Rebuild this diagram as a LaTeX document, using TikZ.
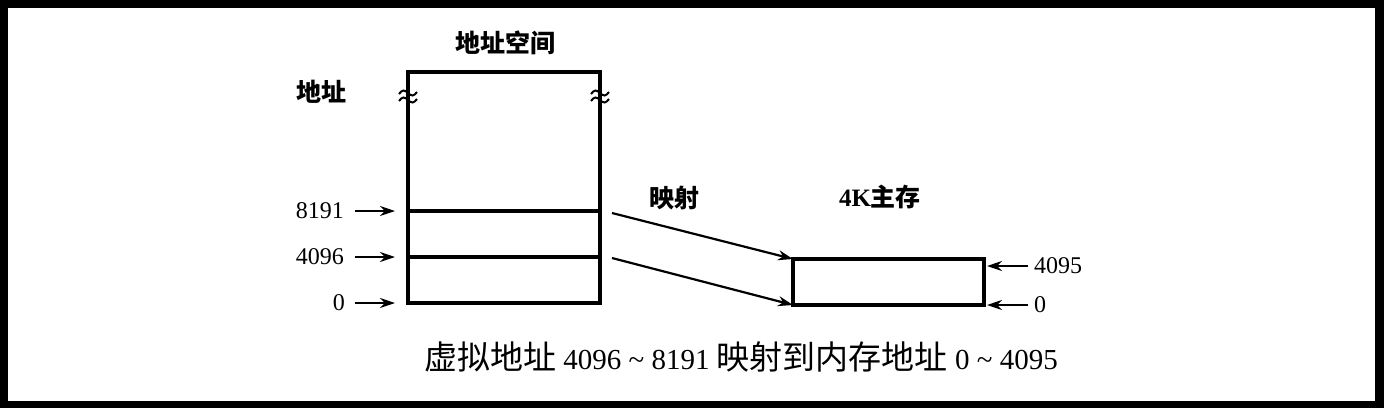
\documentclass[tikz,border=0pt]{standalone}
\usepackage{fontspec}
\setmainfont{Liberation Serif}
\newfontfamily\cjk{Noto Sans CJK SC}
\usetikzlibrary{arrows.meta}
\begin{document}
\begin{tikzpicture}[x=1pt,y=-1pt,
  boxline/.style={line width=3.2pt, line join=miter},
  conn/.style={line width=2.2pt,-{Stealth[length=15pt,width=10pt]}},
  num/.style={font=\fontsize{24}{24}\selectfont, inner sep=0pt},
  lab/.style={font=\cjk\bfseries\fontsize{25}{25}\selectfont, inner sep=0pt},
  squig/.style={line width=2pt}]
\fill[black] (0,0) rectangle (1384,408);
\fill[white] (8,8) rectangle (1375,401);
\useasboundingbox (0,0) rectangle (1384,408);

% address space box
\coordinate (tl) at (408,72);
\coordinate (tr) at (600,72);
\coordinate (bl) at (408,303);
\coordinate (br) at (600,303);
\coordinate (la) at (408,211);
\coordinate (ra) at (600,211);
\coordinate (lb) at (408,257);
\coordinate (rb) at (600,257);
\draw[boxline] (bl) -- (tl) -- (tr) -- (br) -- cycle;
\draw[boxline] (la) -- (ra);
\draw[boxline] (lb) -- (rb);

% break marks
\foreach \x in {408,600}{
  \foreach \y in {93,100}{
    \draw[squig] (\x-9,\y+1) sin (\x-4.5,\y-2.5) cos (\x,\y) sin (\x+4.5,\y+2.5) cos (\x+9,\y-1);
  }
}

% labels
\node[lab] (title) at (505,43) {地址空间};
\node[lab] (addr) at (321,92) {地址};
\node[lab] (map) at (674,198) {映射};
\node[lab] (mainmem) at (880,197) {{\rmfamily\bfseries 4K}主存};

% memory box
\node[draw, boxline, minimum width=191pt, minimum height=46pt, inner sep=0pt, outer sep=0pt] (mem) at (888.5,282) {};

% left numbers and arrows
\node[num, anchor=east] (n8191) at (344,211) {8191};
\node[num, anchor=east] (n4096) at (344,257) {4096};
\node[num, anchor=east] (n0) at (345,303) {0};
\draw[conn, shorten >=13pt] ([xshift=11pt]n8191.east) -- (la);
\draw[conn, shorten >=13pt] ([xshift=11pt]n4096.east) -- (lb);
\draw[conn, shorten >=13pt] ([xshift=10pt]n0.east) -- (bl);

% mapping arrows
\coordinate (ma) at (612,213);
\coordinate (mb) at (612,258);
\draw[conn] (ma) -- (mem.north west);
\draw[conn] (mb) -- (mem.south west);

% right numbers and arrows
\node[num, anchor=west] (n4095) at (1034,266) {4095};
\node[num, anchor=west] (m0) at (1034,305) {0};
\draw[conn, shorten >=3pt] ([xshift=-6pt]n4095.west) -- (mem.east |- n4095.west);
\draw[conn, shorten >=3pt] ([xshift=-6pt]m0.west) -- (mem.east |- m0.west);

% caption
\node[inner sep=0pt, font=\fontsize{29}{29}\selectfont] (caption) at (741,357)
  {{\cjk\fontsize{33}{33}\selectfont 虚拟地址}\ 4096 \textasciitilde\ 8191 {\cjk\fontsize{33}{33}\selectfont 映射到内存地址}\ 0 \textasciitilde\ 4095};
\end{tikzpicture}
\end{document}
